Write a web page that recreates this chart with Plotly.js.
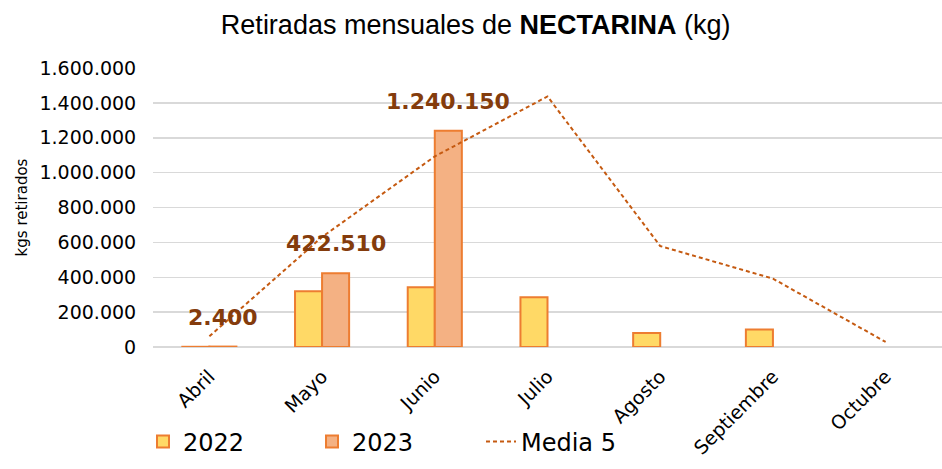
<!DOCTYPE html>
<html>
<head>
<meta charset="utf-8">
<script src="https://cdn.plot.ly/plotly-3.0.1.min.js"></script>
<style>html,body{margin:0;padding:0;background:#fff;}#chart{width:942px;height:469px;}</style>
</head>
<body>
<div id="chart"></div>
<script>
const months = ["Abril", "Mayo", "Junio", "Julio", "Agosto", "Septiembre", "Octubre"];
const values2022 = [1200, 320000, 342000, 285000, 80000, 100000, null];
const values2023 = [2400, 422510, 1240150, null, null, null, null];
const media5 = [61000, 631000, 1093000, 1437000, 579000, 392000, 29000];
const yTicks = [0, 200000, 400000, 600000, 800000, 1000000, 1200000, 1400000, 1600000];

const fmt = v => v.toString().replace(/\B(?=(\d{3})+(?!\d))/g, ".");

const traces = [
  {
    type: "bar", name: "2022", x: months, y: values2022,
    marker: {color: "#FFD966", line: {color: "#ED7D31", width: 2}},
    hoverinfo: "skip"
  },
  {
    type: "bar", name: "2023", x: months, y: values2023,
    marker: {color: "#F4B183", line: {color: "#ED7D31", width: 2}},
    hoverinfo: "skip"
  },
  {
    type: "scatter", mode: "lines", name: "Media 5", x: months, y: media5,
    line: {color: "#C55A11", width: 2, dash: "4px,3px"},
    hoverinfo: "skip"
  }
];

const annotations = [];
months.forEach((m, i) => {
  const v = values2023[i];
  if (v !== null) {
    annotations.push({
      x: m, y: v, xref: "x", yref: "y", text: fmt(v), showarrow: false,
      xshift: 13.5, yshift: 15, yanchor: "bottom",
      font: {family: "DejaVu Sans", size: 22, color: "#843C0C", weight: "bold"}
    });
  }
});

const layout = {
  width: 942, height: 469,
  margin: {l: 153, r: 0, t: 68, b: 122},
  paper_bgcolor: "#fff", plot_bgcolor: "#fff",
  separators: ",.",
  barmode: "group", bargap: 0.52, bargroupgap: 0,
  title: {
    text: "Retiradas mensuales de <b>NECTARINA</b> (kg)",
    font: {family: "Liberation Sans, sans-serif", size: 27, color: "#000"},
    x: 0.505, xanchor: "center", y: 0.947, yanchor: "middle"
  },
  xaxis: {
    type: "category", tickangle: -45,
    tickfont: {family: "DejaVu Sans", size: 19, color: "#000"},
    showgrid: false, showline: false, zeroline: false,
    ticks: "outside", ticklen: 10, tickcolor: "rgba(0,0,0,0)"
  },
  yaxis: {
    range: [0, 1600000], tickvals: yTicks, ticktext: yTicks.map(fmt),
    tickfont: {family: "DejaVu Sans", size: 19, color: "#000"},
    showgrid: true, gridcolor: "#D9D9D9", gridwidth: 1.5,
    zeroline: true, zerolinecolor: "#D9D9D9", zerolinewidth: 1.5,
    showline: false, ticks: "outside", ticklen: 12, tickcolor: "rgba(0,0,0,0)",
    title: {text: "kgs retirados", font: {family: "DejaVu Sans", size: 15, color: "#000"}, standoff: 8}
  },
  legend: {
    orientation: "h", x: -0.0127, xanchor: "left", y: -0.34, yanchor: "middle",
    font: {family: "DejaVu Sans", size: 24, color: "#000"},
    bgcolor: "rgba(0,0,0,0)",
    entrywidth: 124, entrywidthmode: "pixels", traceorder: "normal"
  },
  annotations: annotations,
  showlegend: true
};

Plotly.newPlot("chart", traces, layout, {staticPlot: true, displayModeBar: false});
</script>
</body>
</html>
